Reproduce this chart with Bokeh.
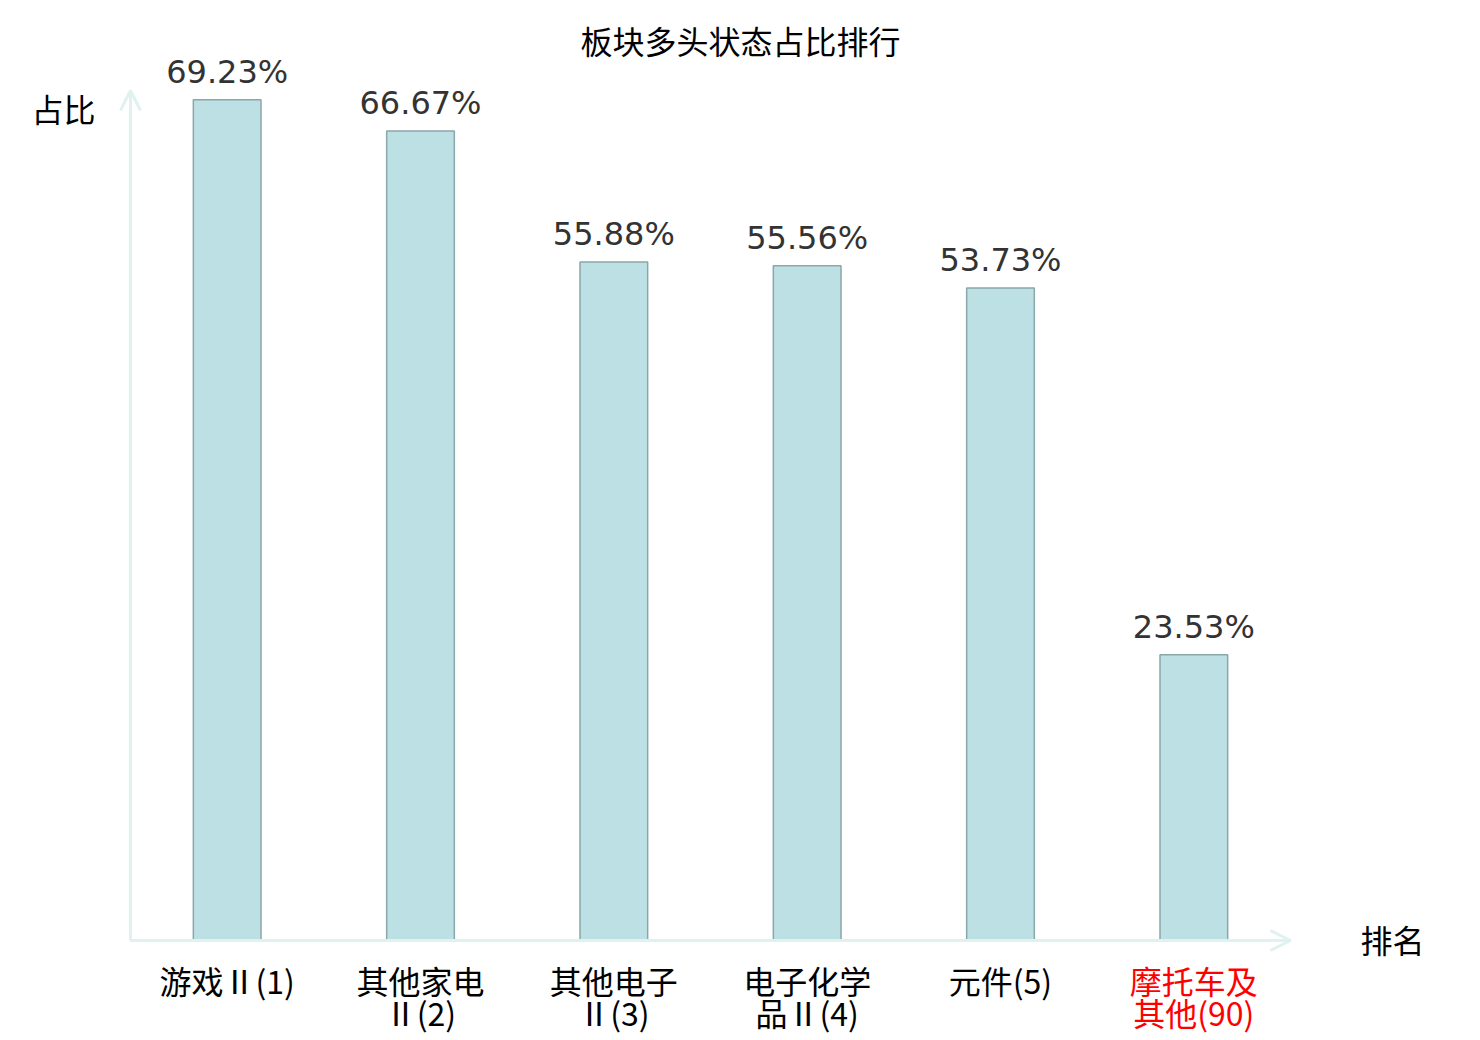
from bokeh.plotting import figure
from bokeh.models import (ColumnDataSource, Range1d, LabelSet, Label, Arrow, OpenHead)
from bokeh.core.properties import value
from bokeh.embed import file_html
from bokeh.resources import INLINE

# ---- data ----
categories = ["游戏Ⅱ(1)", "其他家电Ⅱ(2)", "其他电子Ⅱ(3)", "电子化学品Ⅱ(4)", "元件(5)", "摩托车及其他(90)"]
tick_line1 = ["游戏Ⅱ(1)", "其他家电", "其他电子", "电子化学", "元件(5)", "摩托车及"]
tick_line2 = ["", "Ⅱ(2)", "Ⅱ(3)", "品Ⅱ(4)", "", "其他(90)"]
values = [69.23, 66.67, 55.88, 55.56, 53.73, 23.53]
tick_colors = ["#000000", "#000000", "#000000", "#000000", "#000000", "#ff0000"]
title_text = "板块多头状态占比排行"
y_name = "占比"
x_name = "排名"
y_max = 70

# ---- layout (pixels) ----
W, H = 1480, 1040
X0, X1 = 130, 1290      # axis start / arrow tip (x)
Y0, Y1 = 940, 90        # axis start / arrow tip (y)
n = len(categories)
sx = (X1 - X0) / n      # px per category slot
sy = (Y0 - Y1) / y_max  # px per percent
FS = "32px"
CJK = "Noto Sans CJK SC"

src = ColumnDataSource(dict(
    x=[i + 0.5 for i in range(n)],
    cat=categories,
    val=values,
    val_text=[f"{v:.2f}%" for v in values],
    tick1=tick_line1,
    tick2=tick_line2,
    tick_color=tick_colors,
    zero=[0] * n,
))

p = figure(width=W, height=H, output_backend="svg", toolbar_location=None,
           x_range=Range1d(-X0 / sx, (W - X0) / sx),
           y_range=Range1d(-(H - Y0) / sy, Y0 / sy),
           x_axis_location=None, y_axis_location=None,
           min_border=0, min_border_left=0, min_border_right=0,
           min_border_top=0, min_border_bottom=0)
p.xgrid.visible = False
p.ygrid.visible = False
p.outline_line_color = None
p.background_fill_color = "white"
p.border_fill_color = "white"

p.vbar(x="x", top="val", width=0.35, source=src,
       fill_color="#bce0e3", line_color="#8aa7a9", line_width=1.5)

axis_color = "#dff2f0"
p.add_layout(Arrow(x_start=0, y_start=0, x_end=n, y_end=0,
                   line_color=axis_color, line_width=3,
                   end=OpenHead(size=20, line_color=axis_color, line_width=3)))
p.add_layout(Arrow(x_start=0, y_start=0, x_end=0, y_end=y_max,
                   line_color=axis_color, line_width=3,
                   end=OpenHead(size=20, line_color=axis_color, line_width=3)))

# value labels
p.add_layout(LabelSet(x="x", y="val", text="val_text", source=src,
                      text_align="center", text_baseline="alphabetic",
                      y_offset=17, text_font=value("DejaVu Sans"),
                      text_font_size=FS, text_color="#333333"))

# tick labels (two lines)
for col, off in (("tick1", -16), ("tick2", -48)):
    p.add_layout(LabelSet(x="x", y="zero", text=col, source=src,
                          text_align="center", text_baseline="top",
                          y_offset=off, text_font=value(CJK),
                          text_font_size=FS, text_color="tick_color"))

# title and axis names
p.add_layout(Label(x=(740 - X0) / sx, y=(Y0 - 39) / sy, text=title_text,
                   text_align="center", text_baseline="middle",
                   text_font=CJK, text_font_size=FS, text_color="#000000"))
p.add_layout(Label(x=(63 - X0) / sx, y=(Y0 - 107) / sy, text=y_name,
                   text_align="center", text_baseline="middle",
                   text_font=CJK, text_font_size=FS, text_color="#000000"))
p.add_layout(Label(x=(1392 - X0) / sx, y=2 / sy, text=x_name, text_align="center",
                   text_baseline="middle", text_font=CJK,
                   text_font_size=FS, text_color="#000000"))

open("out.html", "w").write(file_html(p, INLINE))
